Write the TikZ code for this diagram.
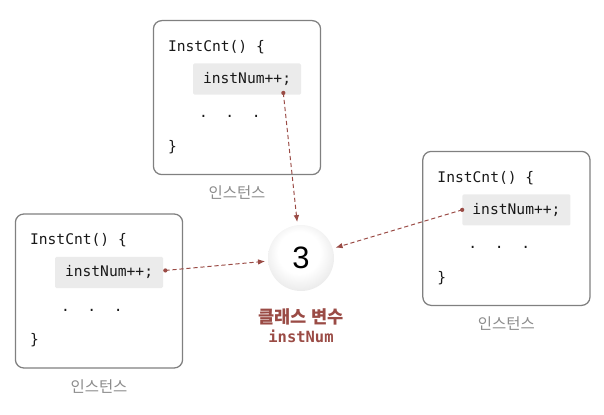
\documentclass[tikz,border=0pt]{standalone}
\usepackage{fontspec}
\setmonofont{DejaVu Sans Mono}
\setsansfont{Liberation Sans}
\newfontfamily\kofont{Noto Sans CJK KR}
\usetikzlibrary{positioning,arrows.meta,calc}
\definecolor{varRed}{HTML}{9A4B45}
\definecolor{boxGray}{HTML}{808080}
\pgfdeclareradialshading{pearl}{\pgfpoint{-2bp}{6bp}}{color(0bp)=(white); color(16bp)=(white); color(34bp)=(black!12); color(50bp)=(black!38)}
\tikzset{
  inst/.style={draw=boxGray,rounded corners=6pt,line width=0.9pt,minimum width=4.18cm,minimum height=3.85cm},
  code/.style={font=\ttfamily\fontsize{10.4}{12}\selectfont,text=black!90,inner sep=0pt},
  hl/.style={code,fill=black!8,rounded corners=1pt,minimum width=2.7cm,minimum height=0.78cm},
  lbl/.style={font=\kofont\fontsize{11}{13}\selectfont,text=black!45},
  ref/.style={-{Latex[length=5pt,width=4pt]},densely dashed,varRed,line width=0.7pt,shorten >=2pt},
  dot/.style={circle,fill=varRed,inner sep=0pt,minimum size=3pt},
}

\begin{document}
\begin{tikzpicture}
\useasboundingbox (0,0) rectangle (15.1,10.35);
% three instances of the same class
\foreach \n/\pos in {top/{(5.925,7.91)},right/{(12.66,4.64)},left/{(2.475,3.075)}}{
  \node[inst] (\n) at \pos {};
  \node[code,anchor=west] (\n-head) at ($(\n.north west)+(0.375,-0.68)$) {InstCnt() \{};
  \node[hl,anchor=north west] (\n-hl) at ($(\n.north west)+(1.0,-1.08)$) {instNum++;};
  \node[code,anchor=west] (\n-dots) at ($(\n.north west)+(1.15,-2.42)$) {.\ \ .\ \ .};
  \node[code,anchor=west] (\n-end) at ($(\n.north west)+(0.375,-3.18)$) {\}};
  \node[lbl,below=1.5mm of \n] (\n-lbl) {인스턴스};
}

% the shared class variable
\node[circle,minimum size=1.65cm,shading=pearl,inner sep=0pt,
  font=\sffamily\fontsize{22}{24}\selectfont] (var) at (7.525,3.9) {3};
\node[below=3mm of var,align=center,text=varRed,font=\kofont\bfseries\fontsize{12.5}{15}\selectfont] (varname)
  {클래스 변수\\[-1pt]{\ttfamily\fontsize{11}{13}\selectfont instNum}};

\coordinate (s1) at ($(top-hl.south east)+(-0.45,0.05)$);
\coordinate (s2) at ($(right-hl.west)+(0,0)$);
\coordinate (s3) at ($(left-hl.east)+(0.05,0.05)$);
\foreach \s in {s1,s2,s3}{
  \node[dot] at (\s) {};
  \draw[ref] (\s) -- (var);
}
\end{tikzpicture}
\end{document}
